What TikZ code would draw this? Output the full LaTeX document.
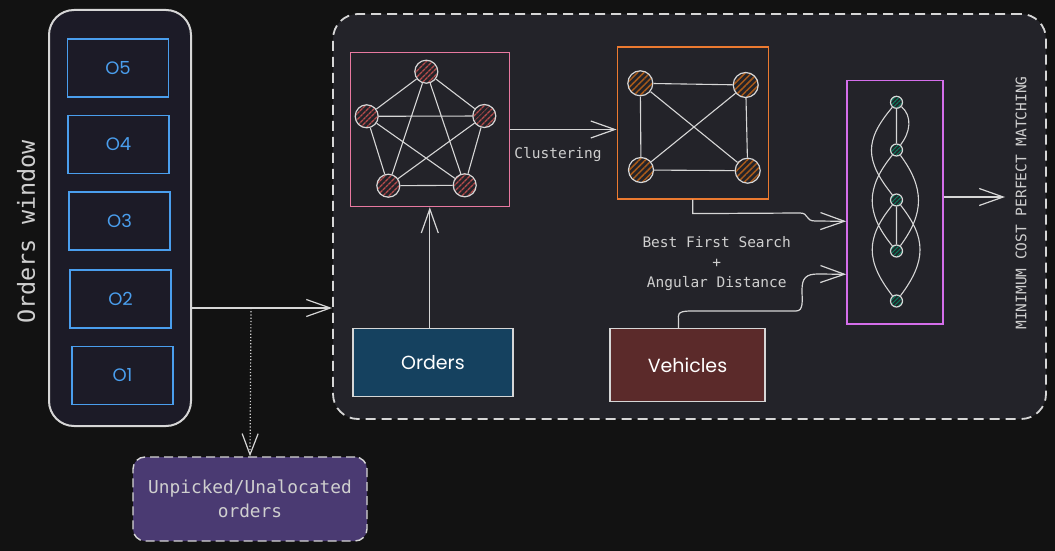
\documentclass[tikz,border=0pt]{standalone}
\usepackage{fontspec}
\setmainfont{Poppins}
\newfontfamily\monofont{DejaVu Sans Mono}
\usetikzlibrary{arrows.meta,patterns.meta,calc}

\definecolor{bgdark}{HTML}{121212}
\definecolor{panelbg}{HTML}{1C1B27}
\definecolor{boxbg}{HTML}{232329}
\definecolor{linegray}{HTML}{D6D6D6}
\definecolor{textgray}{HTML}{CFCFCF}
\definecolor{oblue}{HTML}{4A9EED}
\definecolor{pinkline}{HTML}{E879A0}
\definecolor{orangeline}{HTML}{EC7A30}
\definecolor{violetline}{HTML}{D46EEB}
\definecolor{hatchred}{HTML}{B84C4C}
\definecolor{hatchorange}{HTML}{A85A1A}
\definecolor{hatchteal}{HTML}{0B7A5C}
\definecolor{ordersbg}{HTML}{15415F}
\definecolor{vehiclesbg}{HTML}{5B2A2A}
\definecolor{unpickedbg}{HTML}{4A3A72}

\tikzset{
  obox/.style={draw=oblue, line width=1.3pt, fill=panelbg, minimum width=101pt, minimum height=58pt,
    text=oblue, font=\fontsize{18}{20}\selectfont},
  graphbox/.style={draw=#1, line width=1.4pt, inner sep=0pt},
  vtx/.style={circle, draw=linegray, line width=1.2pt, inner sep=0pt, minimum size=#1,
    preaction={fill=boxbg}},
  edge/.style={draw=linegray, line width=1.1pt},
  arr/.style={draw=linegray, line width=1.2pt, -{Straight Barb[length=24pt,width=17pt,line width=1.2pt]}},
  lbl/.style={text=textgray, font=\monofont\fontsize{14.5}{20}\selectfont},
  srcbox/.style={draw=linegray, line width=1.5pt, fill=#1, text=white, font=\fontsize{19}{22}\selectfont}
}

\begin{document}
\begin{tikzpicture}[x=1pt, y=-1pt]
  \fill[bgdark] (0,0) rectangle (1055,551);
  \useasboundingbox (0,0) rectangle (1055,551);

  % orders window
  \node[draw=linegray, line width=2pt, fill=panelbg, rounded corners=25pt,
        minimum width=142pt, minimum height=416pt] (win) at (120,218) {};
  \node[obox] (o5) at (118,68) {O5};
  \node[obox] (o4) at (118.5,144.5) {O4};
  \node[obox] (o3) at (119.5,221) {O3};
  \node[obox] (o2) at (120.5,299) {O2};
  \node[obox] (o1) at (122.5,375.5) {O1};
  \node[text=textgray, font=\monofont\fontsize{23.5}{26}\selectfont, rotate=90] (wintitle) at (26,232) {Orders window};

  % pipeline
  \node[draw=linegray, line width=1.8pt, dash pattern=on 10pt off 6pt, fill=boxbg, rounded corners=25pt,
        minimum width=713pt, minimum height=405pt] (pipe) at (689.5,216.5) {};

  \coordinate (split) at (251,308);
  \draw[arr, line width=2pt] (win.east |- split) -- (split) -- (pipe.west |- split);

  \node[draw=linegray, line width=1.4pt, dash pattern=on 9pt off 5pt, fill=unpickedbg, rounded corners=12pt,
        minimum width=234pt, minimum height=84pt, align=center, text=textgray,
        font=\monofont\fontsize{17.8}{24.5}\selectfont] (unpicked) at (250,499) {Unpicked/Unalocated\\orders};
  \draw[draw=linegray, line width=1.2pt, dotted, -{Straight Barb[length=21pt,width=16pt,line width=1.2pt]}] (split) -- (unpicked.north);

  % full graph
  \node[graphbox=pinkline, minimum width=159pt, minimum height=154pt] (full) at (429.8,129.5) {};
  \foreach \n/\x/\y in {p1/426.3/71.7, p2/484.3/116, p3/464.7/185.3, p4/388.3/185.7, p5/366.7/116.3}
    \node[vtx=23pt, pattern={Lines[angle=45,distance=4pt,line width=1.4pt]}, pattern color=hatchred] (\n) at (\x,\y) {};
  \draw[edge] (p1) -- (p2) (p1) -- (p3) (p1) -- (p4) (p1) -- (p5) (p2) -- (p3)
    (p2) -- (p4) (p2) -- (p5) (p3) -- (p4) (p3) -- (p5) (p4) -- (p5);

  % clustered graph
  \node[graphbox=orangeline, minimum width=151pt, minimum height=152pt] (clust) at (692.8,122.9) {};
  \foreach \n/\x/\y in {c1/640.3/83.3, c2/745.7/85, c3/747.7/170.7, c4/641/170}
    \node[vtx=25pt, pattern={Lines[angle=45,distance=4.5pt,line width=1.5pt]}, pattern color=hatchorange] (\n) at (\x,\y) {};
  \draw[edge] (c1) -- (c2) (c1) -- (c3) (c1) -- (c4) (c2) -- (c3) (c2) -- (c4) (c3) -- (c4);

  \draw[arr] (full.east) -- (clust.west |- full.east);
  \node[lbl] (clustlbl) at (558,154.3) {Clustering};

  % matching
  \node[graphbox=violetline, minimum width=96pt, minimum height=243pt] (match) at (894.9,202.3) {};
  \foreach \n/\y in {m1/102.3, m2/150, m3/200, m4/251, m5/301}
    \node[vtx=12pt, pattern={Lines[angle=45,distance=3pt,line width=1.1pt]}, pattern color=hatchteal] (\n) at (896.5,\y) {};
  \draw[edge] (m1) -- (m2) (m3) -- (m4)
    (m1) .. controls +(16,14) and +(14,-18) .. (m2)
    (m1) .. controls +(-32,38) and +(-32,-40) .. (m3)
    (m2) .. controls +(-31,38) and +(-31,-38) .. (m4)
    (m2) .. controls +(28,38) and +(28,-38) .. (m4)
    (m3) .. controls +(-31,38) and +(-31,-40) .. (m5)
    (m3) .. controls +(30,38) and +(30,-40) .. (m5);

  \coordinate (done) at (1005,197);
  \draw[arr] (match.east |- done) -- (done);
  \node[lbl, rotate=90] (mcpm) at (1021,203) {MINIMUM COST PERFECT MATCHING};

  % inputs
  \node[srcbox=ordersbg, minimum width=160pt, minimum height=68pt] (orders) at (432.9,362.7) {Orders};
  \node[srcbox=vehiclesbg, minimum width=155pt, minimum height=73pt] (vehicles) at (687.5,365.2) {Vehicles};
  \draw[arr] (orders.north -| full.south) -- (full.south);

  \draw[arr] (clust.south) -- ++(0,14) -- (800,213) .. controls (809,213) and (805,221) .. (815,221)
    -- ($(match.west)+(0,19)$);
  \draw[arr] ([xshift=-9pt]vehicles.north) -- ++(0,-8) .. controls +(0,-4) and (676,311) .. (690,311)
    -- (796,311) .. controls (804,311) and (802,300) .. (802,290)
    .. controls (802,278) and (806,274) .. (818,274) -- ($(match.west)+(0,72)$);
  \node[lbl, align=center] (bfs) at (716.7,264) {Best First Search\\+\\Angular Distance};
\end{tikzpicture}
\end{document}
